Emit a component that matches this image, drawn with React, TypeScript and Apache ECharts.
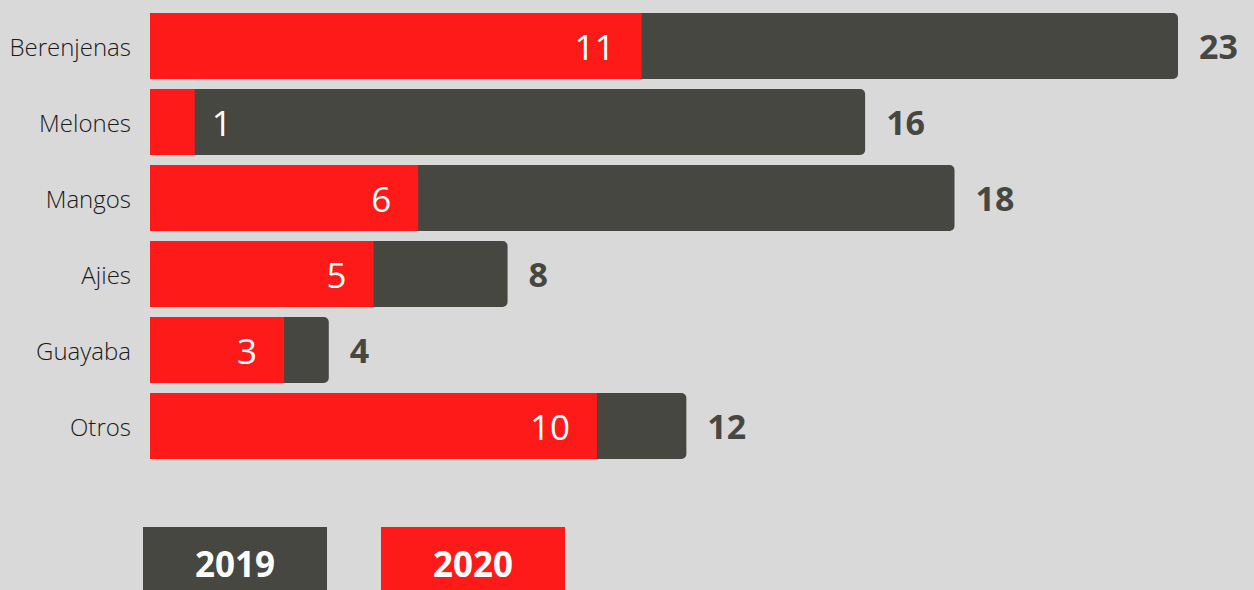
import React, { useEffect, useRef } from "react";
import * as echarts from "echarts";

const categories = ["Berenjenas", "Melones", "Mangos", "Ajies", "Guayaba", "Otros"];
const values2019 = [23, 16, 18, 8, 4, 12];
const values2020 = [11, 1, 6, 5, 3, 10];
const seriesNames = ["2019", "2020"];

const GRAY = "#474742";
const RED = "#ff1a1a";
const BG = "#d9d9d9";

export default function App() {
  const ref = useRef<HTMLDivElement>(null);
  useEffect(() => {
    if (!ref.current) return;
    const chart = echarts.init(ref.current, undefined, { renderer: "svg" });
    const red2020 = values2020.map((v) =>
      v <= 2
        ? { value: v, label: { position: "right", distance: 17 } }
        : { value: v }
    );
    chart.setOption({
      animation: false,
      backgroundColor: BG,
      grid: { left: 150, right: 76, top: 8, height: 456 },
      xAxis: { type: "value", min: 0, max: 23, show: false },
      yAxis: {
        type: "category",
        data: categories,
        inverse: true,
        axisLine: { show: false },
        axisTick: { show: false },
        axisLabel: {
          fontFamily: "Open Sans",
          fontWeight: 300,
          fontSize: 24,
          color: "#1a1a1a",
          margin: 19,
        },
      },
      series: [
        {
          name: seriesNames[0],
          type: "bar",
          data: values2019,
          barWidth: 66,
          barGap: "-100%",
          itemStyle: { color: GRAY, borderRadius: [0, 5, 5, 0] },
          label: {
            show: true,
            position: "right",
            distance: 21,
            color: GRAY,
            fontFamily: "Open Sans",
            fontWeight: "bold",
            fontSize: 34,
          },
        },
        {
          name: seriesNames[1],
          type: "bar",
          data: red2020,
          barWidth: 66,
          itemStyle: { color: RED },
          label: {
            show: true,
            position: "insideRight",
            distance: 27,
            color: "#fff",
            fontFamily: "Open Sans",
            fontWeight: "normal",
            fontSize: 35,
          },
        },
      ],
      graphic: [
        {
          type: "group",
          left: 143,
          top: 527,
          children: [
            { type: "rect", shape: { x: 0, y: 0, width: 184, height: 70 }, style: { fill: GRAY } },
            {
              type: "text",
              x: 92,
              y: 36,
              style: {
                text: seriesNames[0],
                fill: "#fff",
                font: "bold 35px 'Open Sans'",
                align: "center",
                verticalAlign: "middle",
              },
            },
          ],
        },
        {
          type: "group",
          left: 381,
          top: 527,
          children: [
            { type: "rect", shape: { x: 0, y: 0, width: 184, height: 70 }, style: { fill: RED } },
            {
              type: "text",
              x: 92,
              y: 36,
              style: {
                text: seriesNames[1],
                fill: "#fff",
                font: "bold 35px 'Open Sans'",
                align: "center",
                verticalAlign: "middle",
              },
            },
          ],
        },
      ],
    });
    return () => chart.dispose();
  }, []);
  return (
    <div
      ref={ref}
      style={{ position: "fixed", left: 0, top: 0, width: 1254, height: 590, background: BG }}
    />
  );
}
